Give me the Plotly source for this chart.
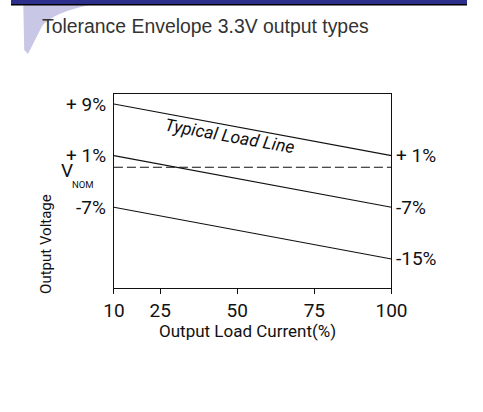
import plotly.graph_objects as go

W, H = 483, 412

# ---- data ----
load_pct = [10, 100]
upper_limit = [9, 1]        # % deviation
typical_line = [1, -7]
lower_limit = [-7, -15]
vnom_level = -0.8
x_ticks = [10, 25, 50, 75, 100]
left_labels = ["+ 9%", "+ 1%", "-7%"]
left_values = [9, 1, -7]
right_labels = ["+ 1%", "-7%", "-15%"]
right_values = [1, -7, -15]

title_text = "Tolerance Envelope 3.3V output types"
narrow = "Roboto, Liberation Sans, sans-serif"


def px(x):
    return x / W


def py(y):
    return 1 - y / H


fig = go.Figure()
for ys in (upper_limit, typical_line, lower_limit):
    fig.add_trace(go.Scatter(x=load_pct, y=ys, mode="lines",
                             line=dict(color="#111111", width=1.1),
                             hoverinfo="skip", showlegend=False))
fig.add_trace(go.Scatter(x=[load_pct[0], load_pct[-1]], y=[vnom_level, vnom_level],
                         mode="lines", line=dict(color="#111111", width=1.1, dash="9px,4px"),
                         hoverinfo="skip", showlegend=False))

ann = []
for lab, v in zip(left_labels, left_values):
    ann.append(dict(x=px(103), xref="paper", y=v, yref="y", text=lab, showarrow=False,
                    xanchor="right", yanchor="middle",
                    font=dict(family=narrow, size=19, color="#111111")))
for lab, v in zip(right_labels, right_values):
    ann.append(dict(x=px(406), xref="paper", y=v, yref="y", text=lab, showarrow=False,
                    xanchor="left", yanchor="middle",
                    font=dict(family=narrow, size=19, color="#111111")))
ann.append(dict(x=px(51), xref="paper", y=py(171), yref="paper", text="V", showarrow=False,
                xanchor="left", yanchor="middle",
                font=dict(family=narrow, size=19, color="#111111")))
ann.append(dict(x=px(62), xref="paper", y=py(184), yref="paper", text="NOM", showarrow=False,
                xanchor="left", yanchor="middle",
                font=dict(family=narrow, size=9.5, color="#111111")))
ann.append(dict(x=px(231), xref="paper", y=py(136), yref="paper", text="<i>Typical Load Line</i>",
                showarrow=False, textangle=10, xanchor="center", yanchor="middle",
                font=dict(family=narrow, size=17.5, color="#111111")))
ann.append(dict(x=px(37), xref="paper", y=py(244), yref="paper", text="Output Voltage",
                showarrow=False, textangle=-90, xanchor="center", yanchor="middle",
                font=dict(family=narrow, size=15, color="#111111")))
ann.append(dict(x=px(251), xref="paper", y=py(331), yref="paper", text="Output Load Current(%)",
                showarrow=False, xanchor="center", yanchor="middle",
                font=dict(family=narrow, size=17, color="#111111")))
ann.append(dict(x=px(31), xref="paper", y=py(26), yref="paper", text=title_text,
                showarrow=False, xanchor="left", yanchor="middle",
                font=dict(family="Liberation Sans, Arial, sans-serif", size=19.4, color="#333333")))

shapes = [
    # lavender swoosh
    dict(type="path", xref="paper", yref="paper",
         path=f"M {px(13)},{py(4)} L {px(88)},{py(4)} Q {px(45)},{py(12)} {px(33)},{py(26)} "
              f"L {px(18)},{py(54)} L {px(14)},{py(50)} Z",
         fillcolor="#c8c8e6", line=dict(width=0), layer="below"),
    # top bar
    dict(type="rect", xref="paper", yref="paper", x0=0, x1=1, y0=py(4), y1=1,
         fillcolor="#2d2f8c", line=dict(width=0)),
    dict(type="rect", xref="paper", yref="paper", x0=0, x1=1, y0=py(5.5), y1=py(4),
         fillcolor="#000000", line=dict(width=0)),
]

fig.update_layout(
    width=W, height=H,
    margin=dict(l=0, r=0, t=0, b=0),
    paper_bgcolor="white", plot_bgcolor="white",
    annotations=ann, shapes=shapes,
    xaxis=dict(domain=[px(109), px(403)], range=[10, 100], tickvals=x_ticks,
               ticktext=[str(t) for t in x_ticks], ticks="outside", ticklen=5,
               tickcolor="#111111", showgrid=False, zeroline=False,
               showline=True, linecolor="#111111", linewidth=1.2, mirror=True,
               tickfont=dict(family=narrow, size=19, color="#111111")),
    yaxis=dict(domain=[py(288), py(94)], range=[-19.5, 10.55], showticklabels=False,
               ticks="", showgrid=False, zeroline=False,
               showline=True, linecolor="#111111", linewidth=1.2, mirror=True),
)

fig.write_html("out.html", config={"displayModeBar": False},
               post_script="document.body.style.margin='0';")
